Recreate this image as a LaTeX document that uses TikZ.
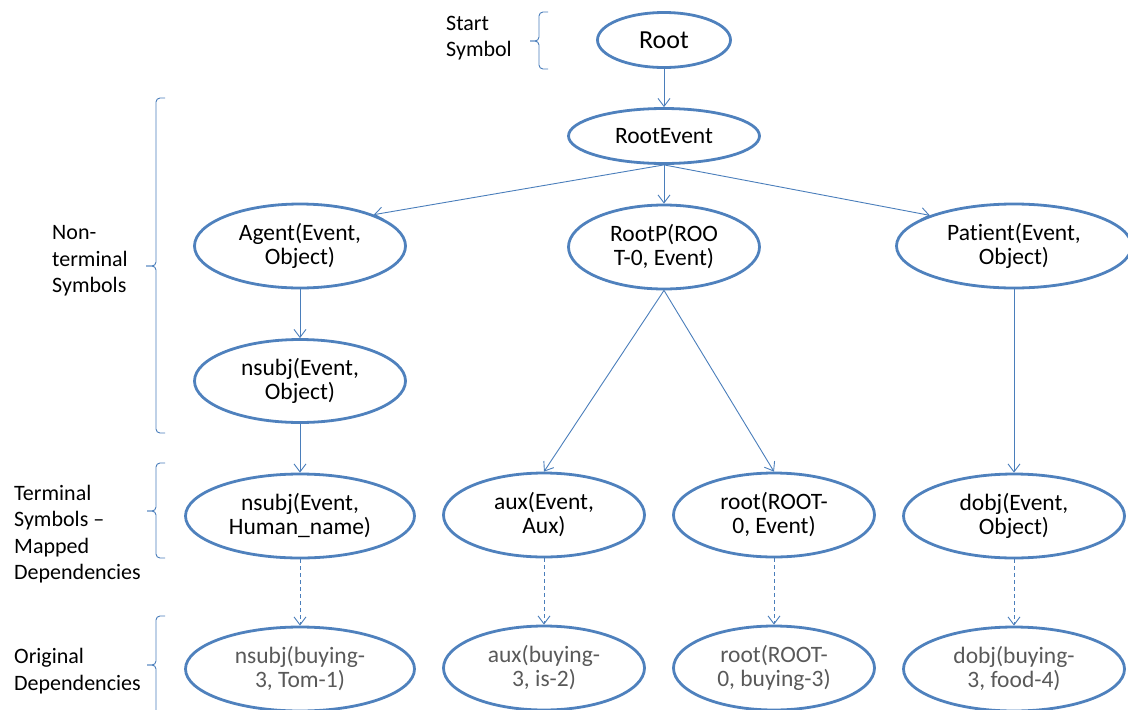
\documentclass[tikz,border=0pt]{standalone}
\usepackage{fontspec}
\setmainfont{Carlito}[Ligatures=NoCommon]
\usetikzlibrary{arrows.meta,shapes.geometric}
\definecolor{ebl}{HTML}{4F81BD}
\definecolor{lbl}{HTML}{4A7EBB}
\definecolor{gtx}{HTML}{595959}
\begin{document}
\begin{tikzpicture}[x=1pt,y=-1pt,
  ell/.style={ellipse, draw=ebl, line width=2.8pt, inner sep=0pt, align=center,
    font=\fontsize{23.5}{24}\selectfont, text=black},
  orig/.style={ell, text=gtx},
  conn/.style={draw=lbl, line width=0.9pt, -{Straight Barb[length=8pt,width=12pt]}},
  dconn/.style={conn, dash pattern=on 4pt off 3pt},
  brc/.style={draw=lbl, line width=0.9pt, rounded corners=4pt},
  lab/.style={align=left, anchor=west, inner sep=0pt, font=\fontsize{22}{26.5}\selectfont}]
\useasboundingbox (0,0) rectangle (1128,710);

% nodes
\node[ell, minimum width=133pt, minimum height=55pt, font=\fontsize{26}{28}\selectfont] (root) at (664,40) {Root};
\node[ell, minimum width=191pt, minimum height=55pt] (re) at (664,136) {RootEvent};
\node[ell, minimum width=211pt, minimum height=84pt] (agent) at (300,246) {Agent(Event,\\Object)};
\node[ell, minimum width=191pt, minimum height=84pt] (rootp) at (664,247) {RootP(ROO\\T-0, Event)};
\node[ell, minimum width=235pt, minimum height=84pt] (patient) at (1014,246) {Patient(Event,\\Object)};
\node[ell, minimum width=211pt, minimum height=83pt] (nsubjn) at (300,381) {nsubj(Event,\\Object)};

\node[ell, minimum width=229pt, minimum height=84pt] (tnsubj) at (300,516) {nsubj(Event,\\Human\_name)};
\node[ell, minimum width=201pt, minimum height=84pt] (taux) at (544,515) {aux(Event,\\Aux)};
\node[ell, minimum width=201pt, minimum height=84pt] (troot) at (774,515) {root(ROOT-\\0, Event)};
\node[ell, minimum width=221pt, minimum height=84pt] (tdobj) at (1014,516) {dobj(Event,\\Object)};

\node[orig, minimum width=229pt, minimum height=84pt] (onsubj) at (300,669) {nsubj(buying-\\3, Tom-1)};
\node[orig, minimum width=201pt, minimum height=84pt] (oaux) at (544,668) {aux(buying-\\3, is-2)};
\node[orig, minimum width=201pt, minimum height=84pt] (oroot) at (774,668) {root(ROOT-\\0, buying-3)};
\node[orig, minimum width=221pt, minimum height=84pt] (odobj) at (1014,669) {dobj(buying-\\3, food-4)};

% connectors
\draw[conn] (root) -- (re);
\draw[conn] (re.south) -- (agent.23);
\draw[conn] (re.south) -- (rootp);
\draw[conn] (re.south) -- (patient.160);
\draw[conn] (agent) -- (nsubjn);
\draw[conn] (nsubjn) -- (tnsubj);
\draw[conn] (rootp.south) -- (taux.north);
\draw[conn] (rootp.south) -- (troot.north);
\draw[conn] (patient) -- (tdobj);
\draw[dconn] (tnsubj) -- (onsubj);
\draw[dconn] (taux) -- (oaux);
\draw[dconn] (troot) -- (oroot);
\draw[dconn] (tdobj) -- (odobj);

% braces
\draw[brc] (548,12) -- (539,12) -- (539,41) -- (530,41);
\draw[brc] (548,69) -- (539,69) -- (539,41) -- (530,41);
\draw[brc] (165,98) -- (156,98) -- (156,266) -- (146,266);
\draw[brc] (165,433) -- (156,433) -- (156,266) -- (146,266);
\draw[brc] (165,463) -- (156,463) -- (156,511) -- (147,511);
\draw[brc] (165,558) -- (156,558) -- (156,511) -- (147,511);
\draw[brc] (165,616) -- (156,616) -- (156,665) -- (147,665);
\draw[brc] (165,720) -- (156,720) -- (156,665) -- (147,665);

% labels
\node[lab] (lstart) at (446,38) {Start\\Symbol};
\node[lab] (lnonterm) at (52,261) {Non-\\terminal\\Symbols};
\node[lab] (lterm) at (14,534) {Terminal\\Symbols –\\Mapped\\Dependencies};
\node[lab] (lorig) at (14,671) {Original\\Dependencies};
\end{tikzpicture}
\end{document}
